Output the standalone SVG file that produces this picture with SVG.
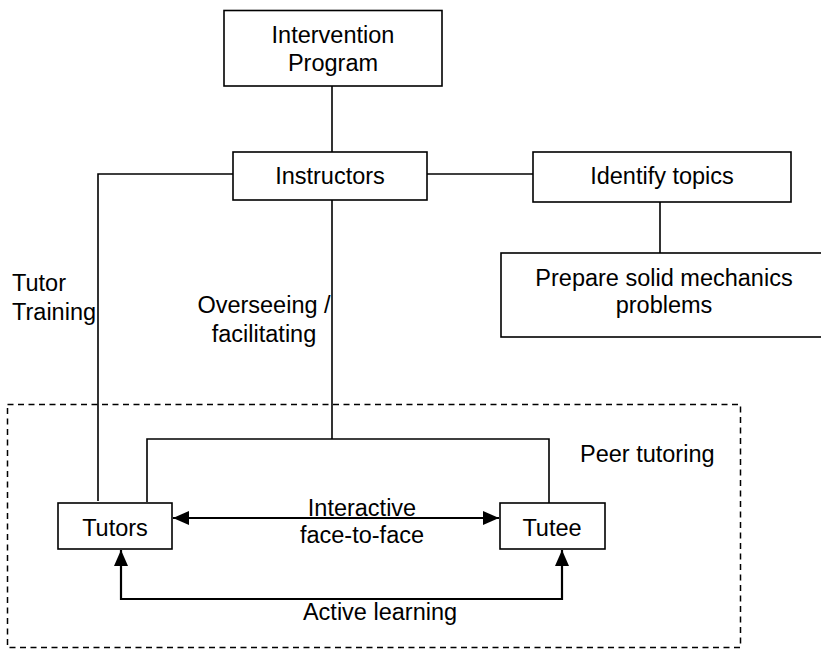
<svg xmlns="http://www.w3.org/2000/svg" width="821" height="649" viewBox="0 0 821 649">
<defs>
<style>
.box{fill:#fff;stroke:#000;stroke-width:1.6}
.ln{fill:none;stroke:#000;stroke-width:1.6}
.ar{fill:none;stroke:#000;stroke-width:2.2}
.dash{fill:none;stroke:#000;stroke-width:1.5;stroke-dasharray:6 4.5}
text{font-family:"Liberation Sans",Arial,sans-serif;font-size:23.5px;fill:#000}
.c{text-anchor:middle}
</style>
<marker id="ah" viewBox="0 0 16 14" refX="16" refY="7" markerWidth="16" markerHeight="14" markerUnits="userSpaceOnUse" orient="auto-start-reverse">
<path d="M0,0 L16,7 L0,14 Z" fill="#000"/>
</marker>
</defs>
<rect width="821" height="649" fill="#fff"/>
<g id="peer-tutoring">
<rect class="dash" x="7.5" y="404.5" width="733" height="243"/>
<text x="580" y="462">Peer tutoring</text>
</g>
<g id="connectors">
<line class="ln" x1="332" y1="86" x2="332" y2="152"/>
<polyline class="ln" points="233,174 98,174 98,501"/>
<line class="ln" x1="427" y1="174" x2="533" y2="174"/>
<line class="ln" x1="660" y1="202" x2="660" y2="253"/>
<line class="ln" x1="332" y1="200" x2="332" y2="439"/>
<polyline class="ln" points="147,502 147,439 549,439 549,503"/>
<line class="ar" x1="173" y1="518" x2="499" y2="518" marker-start="url(#ah)" marker-end="url(#ah)"/>
<polyline class="ar" points="121,550 121,599 562,599 562,550" marker-start="url(#ah)" marker-end="url(#ah)"/>
<text x="12" y="291">Tutor</text>
<text x="12" y="320">Training</text>
<text class="c" x="264" y="313">Overseeing /</text>
<text class="c" x="264" y="342">facilitating</text>
<text class="c" x="362" y="516">Interactive</text>
<text class="c" x="362" y="543">face-to-face</text>
<text class="c" x="380" y="620">Active learning</text>
</g>
<g id="intervention-program">
<rect class="box" x="224" y="10.5" width="218" height="75.5"/>
<text class="c" x="333" y="43">Intervention</text>
<text class="c" x="333" y="71">Program</text>
</g>
<g id="instructors">
<rect class="box" x="233" y="152" width="194" height="48"/>
<text class="c" x="330" y="184">Instructors</text>
</g>
<g id="identify-topics">
<rect class="box" x="533" y="152" width="258" height="50"/>
<text class="c" x="662" y="184">Identify topics</text>
</g>
<g id="prepare-problems">
<rect class="box" x="501" y="253" width="330" height="84"/>
<text class="c" x="664" y="286">Prepare solid mechanics</text>
<text class="c" x="664" y="313">problems</text>
</g>
<g id="tutors">
<rect class="box" x="58" y="503" width="114" height="46"/>
<text class="c" x="115" y="536">Tutors</text>
</g>
<g id="tutee">
<rect class="box" x="500" y="503" width="105" height="46"/>
<text class="c" x="552" y="536">Tutee</text>
</g>
</svg>
